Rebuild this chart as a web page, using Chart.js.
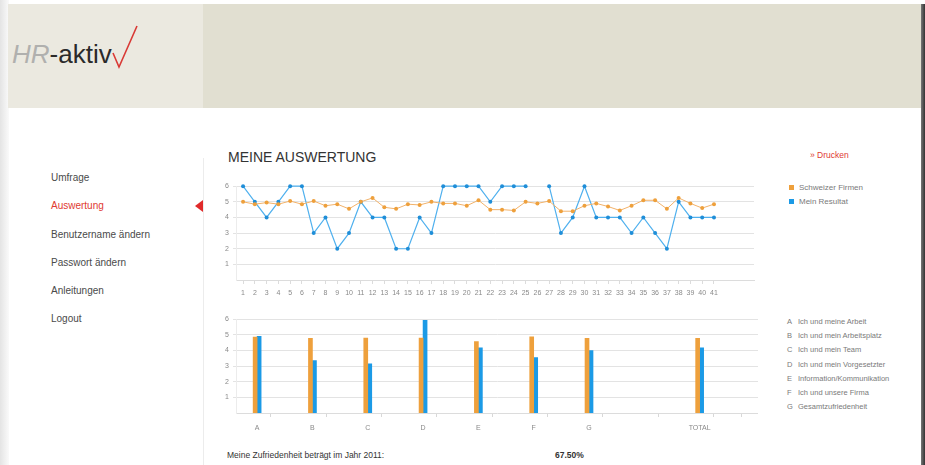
<!DOCTYPE html>
<html>
<head>
<meta charset="utf-8">
<script src="https://cdn.jsdelivr.net/npm/chart.js@4/dist/chart.umd.min.js"></script>
<style>
  html, body { margin: 0; padding: 0; }
  body { width: 925px; height: 465px; position: relative; overflow: hidden; background: #fff;
         font-family: "Liberation Sans", Arial, sans-serif; color: #444; }
  .abs { position: absolute; }
  #shadowL { left: 0; top: 0; width: 9px; height: 465px; background: linear-gradient(to right, #e4e4e4, #fafafa); }
  #shadowR { left: 921px; top: 4px; width: 4px; height: 461px; background: linear-gradient(to right, #777, #333); }
  #headL { left: 8px; top: 4px; width: 195px; height: 104px; background: #ebe9e0; }
  #headR { left: 203px; top: 4px; width: 718px; height: 104px; background: #e1dfd1; }
  #logo { left: 12px; top: 39px; font-size: 26px; letter-spacing: 0; white-space: nowrap; }
  #logo i { color: #b0b0ae; font-style: italic; font-weight: normal; }
  #logo span { color: #2a2a2a; }
  #check { left: 111px; top: 24px; }
  .nav { left: 51px; font-size: 10px; color: #4a4a4a; white-space: nowrap; }
  .nav.act { color: #e03a32; }
  #arrow { left: 195px; top: 200px; width: 0; height: 0; border-top: 6px solid transparent;
           border-bottom: 6px solid transparent; border-right: 8px solid #e02a2a; }
  #divider { left: 203px; top: 158px; width: 1px; height: 307px; background: #ececec; }
  #title { left: 228px; top: 149px; font-size: 14px; color: #333; }
  #print { left: 810px; top: 150px; font-size: 8.5px; color: #e03a32; }
  .lg { left: 789px; font-size: 8px; color: #7a7a7a; white-space: nowrap; }
  .sq { display: inline-block; width: 5px; height: 5px; margin-right: 5px; vertical-align: 0px; }
  .lt { display: inline-block; width: 11px; }
  #sum { left: 227px; top: 450px; font-size: 8.5px; color: #333; }
  #pct { left: 555px; top: 450px; font-size: 8.5px; color: #333; font-weight: bold; }
  canvas { position: absolute; }
</style>
</head>
<body>
<div id="shadowL" class="abs"></div>
<div id="headL" class="abs"></div>
<div id="headR" class="abs"></div>
<div id="shadowR" class="abs"></div>
<div id="logo" class="abs"><i>HR</i><span>-aktiv</span></div>
<svg id="check" class="abs" width="30" height="50">
  <path d="M2 29 L8 43 L26 2" fill="none" stroke="#d93a36" stroke-width="1.6"/>
</svg>

<div class="abs nav" style="top:172px">Umfrage</div>
<div class="abs nav act" style="top:200px">Auswertung</div>
<div class="abs nav" style="top:229px">Benutzername ändern</div>
<div class="abs nav" style="top:257px">Passwort ändern</div>
<div class="abs nav" style="top:285px">Anleitungen</div>
<div class="abs nav" style="top:313px">Logout</div>
<div id="arrow" class="abs"></div>
<div id="divider" class="abs"></div>

<div id="title" class="abs">MEINE AUSWERTUNG</div>
<div id="print" class="abs">» Drucken</div>

<div class="abs lg" style="top:183px"><span class="sq" style="background:#eea03c"></span>Schweizer Firmen</div>
<div class="abs lg" style="top:197px"><span class="sq" style="background:#1b9ae6"></span>Mein Resultat</div>

<div id="catLegend"></div>

<canvas id="lineChart" width="542" height="122" style="left:216px;top:178px;width:542px;height:122px"></canvas>
<canvas id="barChart" width="542" height="122" style="left:216px;top:311px;width:542px;height:122px"></canvas>

<div id="sum" class="abs">Meine Zufriedenheit beträgt im Jahr 2011:</div>
<div id="pct" class="abs">67.50%</div>

<script>
// --- Daten Linienchart (Fragen 1..41) ---
const questions = [1,2,3,4,5,6,7,8,9,10,11,12,13,14,15,16,17,18,19,20,
  21,22,23,24,25,26,27,28,29,30,31,32,33,34,35,36,37,38,39,40,41];
const firmenLine = [5.0,4.85,4.95,4.85,5.05,4.85,5.05,4.75,4.85,4.55,5.0,5.25,4.65,4.55,4.85,4.8,5.0,4.9,4.9,4.75,
  5.1,4.5,4.5,4.45,5.0,4.9,5.05,4.4,4.4,4.75,4.9,4.7,4.45,4.75,5.1,5.1,4.55,5.25,4.9,4.6,4.85];
const resultatLine = [6,5,4,5,6,6,3,4,2,3,5,4,4,2,2,4,3,6,6,6,
  6,5,6,6,6,null,6,3,4,6,4,4,4,3,4,3,2,5,4,4,4];

// --- Daten Balkenchart ---
const categories = ["A","B","C","D","E","F","G","","TOTAL"];
const firmenBars = [4.85,4.78,4.8,4.8,4.57,4.87,4.78,null,4.78];
const resultatBars = [4.9,3.35,3.15,5.93,4.17,3.55,4.0,null,4.17];
const categoryNames = ["Ich und meine Arbeit","Ich und mein Arbeitsplatz","Ich und mein Team",
  "Ich und mein Vorgesetzter","Information/Kommunikation","Ich und unsere Firma","Gesamtzufriedenheit"];

const ORANGE = "#eea03c";
const BLUE = "#1b9ae6";
const GRID = "#e3e3e3";

Chart.defaults.font.family = "'Liberation Sans', Arial, sans-serif";
Chart.defaults.font.size = 7;
Chart.defaults.color = "#8a8a8a";

// Legende A-G
const legendBox = document.getElementById("catLegend");
categoryNames.forEach((name, i) => {
  const d = document.createElement("div");
  d.className = "abs lg";
  d.style.left = "787px";
  d.style.top = (317 + i * 14.2) + "px";
  d.style.fontSize = "7.5px";
  d.innerHTML = '<span class="lt">' + categories[i] + "</span>" + name;
  legendBox.appendChild(d);
});

function yAxis() {
  return {
    min: 0,
    max: 6,
    afterFit: (s) => { s.width = 20; },
    afterBuildTicks: (s) => { s.ticks = [1,2,3,4,5,6].map(v => ({ value: v })); },
    ticks: { padding: 4 },
    grid: { color: GRID, tickLength: 3 },
    border: { color: "#ececec" }
  };
}

// Linienchart
new Chart(document.getElementById("lineChart"), {
  type: "line",
  data: {
    datasets: [
      {
        label: "Schweizer Firmen",
        data: questions.map((q, i) => ({ x: q, y: firmenLine[i] })),
        borderColor: "#f2b26a",
        backgroundColor: ORANGE,
        pointBackgroundColor: ORANGE,
        pointBorderWidth: 0,
        pointRadius: 2,
        borderWidth: 1,
        clip: false
      },
      {
        label: "Mein Resultat",
        data: questions.map((q, i) => ({ x: q, y: resultatLine[i] })),
        borderColor: "#4fb0ee",
        backgroundColor: BLUE,
        pointBackgroundColor: "#1f8ed8",
        pointBorderWidth: 0,
        pointRadius: 2,
        borderWidth: 1.2,
        clip: false
      }
    ]
  },
  options: {
    responsive: false,
    animation: false,
    layout: { padding: { top: 0, right: 0, left: 0, bottom: 0 } },
    plugins: { legend: { display: false }, tooltip: { enabled: false } },
    scales: {
      x: {
        type: "linear",
        min: 0.4,
        max: 44.4,
        offset: false,
        afterFit: (s) => { s.height = 20; },
        afterBuildTicks: (s) => { s.ticks = questions.map(v => ({ value: v })); },
        ticks: { autoSkip: false, maxRotation: 0, padding: 5 },
        grid: { drawOnChartArea: false, tickLength: 4, color: "#dcdcdc" },
        border: { color: "#dcdcdc" }
      },
      y: yAxis()
    }
  }
});

// Balkenchart
const barPoints = (vals) => categories
  .map((c, i) => ({ x: i, y: vals[i] }))
  .filter(p => p.y !== null);

new Chart(document.getElementById("barChart"), {
  type: "bar",
  data: {
    datasets: [
      { label: "Schweizer Firmen", data: barPoints(firmenBars), backgroundColor: ORANGE, barThickness: 4 },
      { label: "Mein Resultat", data: barPoints(resultatBars), backgroundColor: BLUE, barThickness: 4 }
    ]
  },
  options: {
    responsive: false,
    animation: false,
    layout: { padding: { top: 0, right: 0, left: 0, bottom: 0 } },
    plugins: { legend: { display: false }, tooltip: { enabled: false } },
    scales: {
      x: {
        type: "linear",
        min: -0.382,
        max: 9.055,
        offset: false,
        afterFit: (s) => { s.height = 20; },
        afterBuildTicks: (s) => {
          const t = [];
          for (let v = 0; v <= 8.5; v += 0.5) t.push({ value: v });
          s.ticks = t;
        },
        ticks: {
          autoSkip: false,
          maxRotation: 0,
          padding: 7,
          callback: (v) => Number.isInteger(v) ? categories[v] : ""
        },
        grid: {
          drawOnChartArea: false,
          tickLength: 4,
          color: (ctx) => (ctx.tick && Number.isInteger(ctx.tick.value)) ? "rgba(0,0,0,0)" : "#d8d8d8"
        },
        border: { color: "#dcdcdc" }
      },
      y: yAxis()
    }
  }
});
</script>
</body>
</html>
